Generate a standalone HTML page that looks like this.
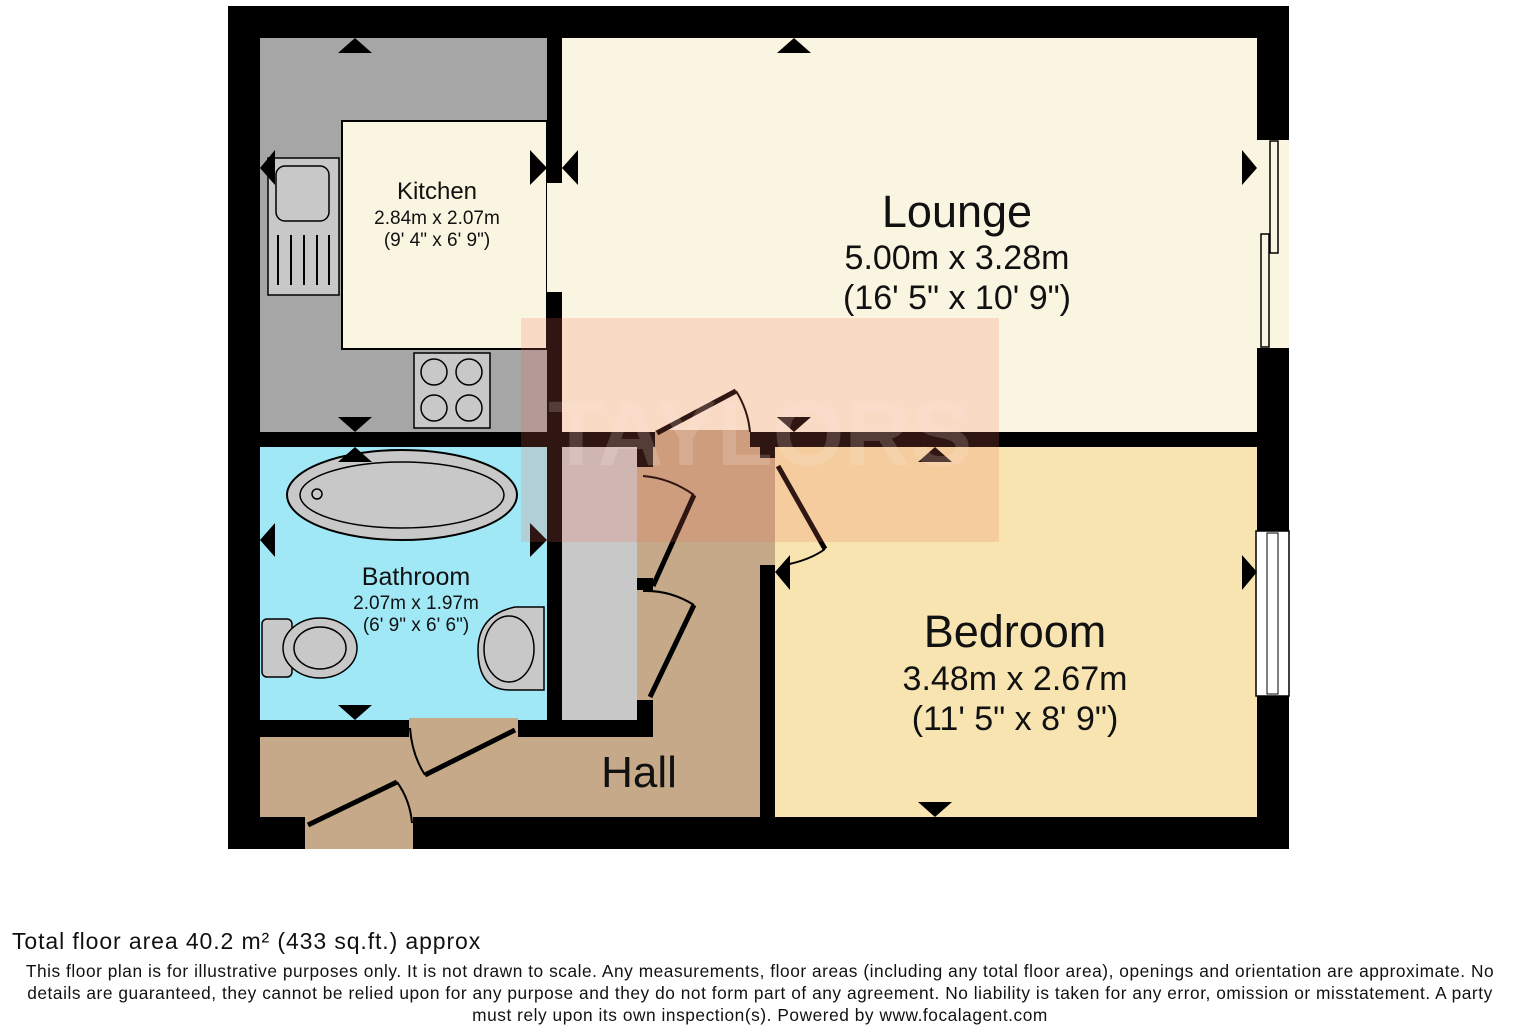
<!DOCTYPE html>
<html><head><meta charset="utf-8"><style>
body{margin:0;background:#fff;width:1520px;height:1032px;overflow:hidden;font-family:"Liberation Sans",Arial,sans-serif}
.f1{position:absolute;left:12px;top:928px;font-size:23px;letter-spacing:0.9px;color:#111}
.f2{position:absolute;left:0;width:1520px;top:960px;font-size:17.3px;letter-spacing:0.55px;line-height:22px;text-align:center;color:#111;white-space:nowrap}
</style></head><body>
<svg width="1520" height="1032" style="position:absolute;left:0;top:0" font-family="Liberation Sans, Arial, sans-serif">
<rect x="228" y="6" width="1061" height="843" fill="#000"/>
<rect x="260" y="38" width="287" height="394" fill="#a6a6a6"/>
<rect x="562" y="38" width="695" height="394" fill="#faf5e0"/>
<rect x="342" y="121" width="205" height="228" fill="#faf5e0" stroke="#000" stroke-width="2"/>
<rect x="547" y="183" width="15" height="109" fill="#faf5e0"/>
<rect x="260" y="447" width="287" height="273" fill="#a0e8f6"/>
<rect x="562" y="447" width="75" height="273" fill="#c8c8c8"/>
<rect x="653" y="447" width="107" height="290" fill="#c6a988"/>
<rect x="260" y="737" width="500" height="80" fill="#c6a988"/>
<rect x="409" y="718" width="109" height="20" fill="#c6a988"/>
<rect x="305" y="815" width="108" height="34" fill="#c6a988"/>
<rect x="637" y="467" width="16" height="111" fill="#c6a988"/>
<rect x="637" y="590" width="16" height="110" fill="#c6a988"/>
<rect x="655" y="430" width="95" height="18" fill="#c6a988"/>
<rect x="760" y="458" width="15" height="107" fill="#c6a988"/>
<rect x="775" y="447" width="482" height="370" fill="#f7e4b0"/>
<rect x="760" y="447" width="15" height="11" fill="#000"/>
<rect x="637" y="447" width="16" height="20" fill="#000"/>
<rect x="637" y="578" width="16" height="12" fill="#000"/>
<rect x="637" y="700" width="16" height="37" fill="#000"/>
<rect x="1257" y="140" width="32" height="208" fill="#faf5e0"/>
<rect x="1270" y="141" width="8" height="112" fill="#faf5e0" stroke="#000" stroke-width="1.5"/>
<rect x="1261" y="234" width="8" height="113" fill="#faf5e0" stroke="#000" stroke-width="1.5"/>
<rect x="1256" y="531" width="33" height="165" fill="#fff" stroke="#000" stroke-width="1.5"/>
<rect x="1267" y="533" width="11" height="161" fill="#fff" stroke="#000" stroke-width="1"/>
<rect x="268" y="158" width="71" height="137" fill="#c8c8c8" stroke="#000" stroke-width="1.5"/>
<rect x="276" y="166" width="53" height="55" rx="9" fill="#c8c8c8" stroke="#000" stroke-width="1.5"/>
<g stroke="#000" stroke-width="2"><line x1="278" y1="235" x2="278" y2="285"/><line x1="291" y1="235" x2="291" y2="285"/><line x1="304" y1="235" x2="304" y2="285"/><line x1="317" y1="235" x2="317" y2="285"/><line x1="329" y1="235" x2="329" y2="285"/></g>
<rect x="414" y="353" width="76" height="75" fill="#c8c8c8" stroke="#000" stroke-width="1.5"/>
<g fill="none" stroke="#000" stroke-width="1.5"><circle cx="434" cy="372" r="13"/><circle cx="469" cy="372" r="13"/><circle cx="434" cy="408" r="13"/><circle cx="469" cy="408" r="13"/></g>
<ellipse cx="402" cy="495" rx="115" ry="45" fill="#c8c8c8" stroke="#000" stroke-width="2"/>
<ellipse cx="402" cy="495" rx="102" ry="33" fill="#c8c8c8" stroke="#000" stroke-width="1.5"/>
<circle cx="317" cy="494" r="5" fill="#c8c8c8" stroke="#000" stroke-width="1.5"/>
<rect x="262" y="619" width="30" height="58" rx="5" fill="#c8c8c8" stroke="#000" stroke-width="1.5"/>
<ellipse cx="320" cy="648" rx="37" ry="30" fill="#c8c8c8" stroke="#000" stroke-width="1.5"/>
<ellipse cx="320" cy="648" rx="26" ry="21" fill="#c8c8c8" stroke="#000" stroke-width="1.5"/>
<path d="M544 607 L515 607 Q478 615 478 650 Q478 690 510 690 L544 690 Z" fill="#c8c8c8" stroke="#000" stroke-width="1.5"/>
<ellipse cx="509" cy="649" rx="25" ry="33" fill="none" stroke="#000" stroke-width="1.5"/>
<g stroke="#000" stroke-width="5" fill="none">
<line x1="657" y1="433" x2="736" y2="391"/>
<line x1="653" y1="586" x2="694" y2="495"/>
<line x1="650" y1="697" x2="694" y2="605"/>
<line x1="778" y1="466" x2="825" y2="549"/>
<line x1="425" y1="775" x2="515" y2="730"/>
<line x1="308" y1="825" x2="397" y2="782"/>
</g>
<g stroke="#000" stroke-width="2" fill="none">
<path d="M736 391 Q748 410 750 432"/>
<path d="M643 476 Q670 478 694 495"/>
<path d="M643 591 Q670 590 694 605"/>
<path d="M825 549 Q810 560 785 565"/>
<path d="M410 728 Q412 755 425 775"/>
<path d="M397 782 Q410 800 412 823"/>
</g>
<g fill="#000">
<polygon points="338,53 372,53 355,38"/>
<polygon points="777,53 811,53 794,38"/>
<polygon points="338,417 372,417 355,432"/>
<polygon points="338,462 372,462 355,447"/>
<polygon points="777,417 811,417 794,432"/>
<polygon points="918,462 952,462 935,447"/>
<polygon points="918,802 952,802 935,817"/>
<polygon points="338,705 372,705 355,720"/>
<polygon points="275,150 275,185 260,168"/>
<polygon points="530,150 530,185 547,168"/>
<polygon points="578,150 578,185 562,168"/>
<polygon points="1242,150 1242,185 1257,168"/>
<polygon points="1242,555 1242,590 1257,572"/>
<polygon points="275,523 275,557 260,540"/>
<polygon points="530,523 530,557 547,540"/>
<polygon points="790,555 790,590 775,572"/>
</g>
<rect x="521" y="318" width="478" height="224" fill="rgba(240,110,90,0.2)"/>
<text x="760" y="465" font-size="92" font-weight="bold" text-anchor="middle" fill="rgba(255,240,230,0.18)">TAYLORS</text>
<g fill="#111" text-anchor="middle">
<text x="437" y="199" font-size="24">Kitchen</text>
<text x="437" y="224" font-size="19">2.84m x 2.07m</text>
<text x="437" y="246" font-size="19">(9' 4" x 6' 9")</text>
<text x="957" y="227" font-size="45">Lounge</text>
<text x="957" y="269" font-size="34">5.00m x 3.28m</text>
<text x="957" y="309" font-size="34">(16' 5" x 10' 9")</text>
<text x="416" y="585" font-size="25">Bathroom</text>
<text x="416" y="609" font-size="19">2.07m x 1.97m</text>
<text x="416" y="631" font-size="19">(6' 9" x 6' 6")</text>
<text x="639" y="787" font-size="44">Hall</text>
<text x="1015" y="647" font-size="45">Bedroom</text>
<text x="1015" y="690" font-size="34">3.48m x 2.67m</text>
<text x="1015" y="730" font-size="34">(11' 5" x 8' 9")</text>
</g>
</svg>
<div class="f1">Total floor area 40.2 m² (433 sq.ft.) approx</div>
<div class="f2">This floor plan is for illustrative purposes only. It is not drawn to scale. Any measurements, floor areas (including any total floor area), openings and orientation are approximate. No<br>details are guaranteed, they cannot be relied upon for any purpose and they do not form part of any agreement. No liability is taken for any error, omission or misstatement. A party<br>must rely upon its own inspection(s). Powered by www.focalagent.com</div>
</body></html>
